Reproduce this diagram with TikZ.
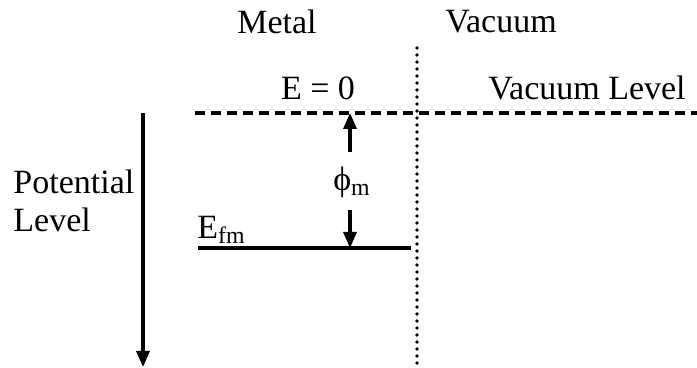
\documentclass[tikz,border=0pt]{standalone}
\usepackage{fontspec}
\setmainfont{Liberation Serif}
\usetikzlibrary{arrows.meta}
\begin{document}
\begin{tikzpicture}[x=0.5pt,y=-0.5pt,
  lbl/.style={inner sep=0pt,font=\fontsize{17}{20}\selectfont},
  solidline/.style={line width=1.6pt},
  dashline/.style={line width=1.8pt,dash pattern=on 5pt off 3pt},
  dotline/.style={line width=1.8pt,dash pattern=on 0pt off 3.5pt,line cap=round},
  arr/.style={line width=1.6pt,-{Triangle[length=8pt,width=6.5pt]}}]
\useasboundingbox (0,0) rectangle (697,368);
% texts
\node[lbl] (metal) at (277,22) {Metal};
\node[lbl] (vacuum) at (501,22) {Vacuum};
\node[lbl] (ezero) at (318,88) {E = 0};
\node[lbl] (vaclevel) at (587,88) {Vacuum Level};
\node[lbl,anchor=west] (pot) at (13,182) {Potential};
\node[lbl,anchor=west] (lev) at (13,220) {Level};
\node[lbl,anchor=south west] (efm) at (197,244) {E\textsubscript{fm}};
\node[lbl] (phi) at (352,182) {ϕ\textsubscript{m}};
% coordinates
\coordinate (dashL) at (195,113);
\coordinate (dashR) at (697,113);
\coordinate (dotT) at (417,48);
\coordinate (dotB) at (417,366);
\coordinate (efmL) at (198,248);
\coordinate (efmR) at (411,248);
\coordinate (potT) at (143,113);
\coordinate (potB) at (143,367);
\coordinate (upS) at (350,152);
\coordinate (upE) at (350,113);
\coordinate (dnS) at (350,210);
\coordinate (dnE) at (350,248);
% lines
\draw[dashline] (dashL) -- (dashR);
\draw[dotline] (dotT) -- (dotB);
\draw[solidline] (efmL) -- (efmR);
\draw[arr] (potT) -- (potB);
\draw[arr] (upS) -- (upE);
\draw[arr] (dnS) -- (dnE);
\end{tikzpicture}
\end{document}
